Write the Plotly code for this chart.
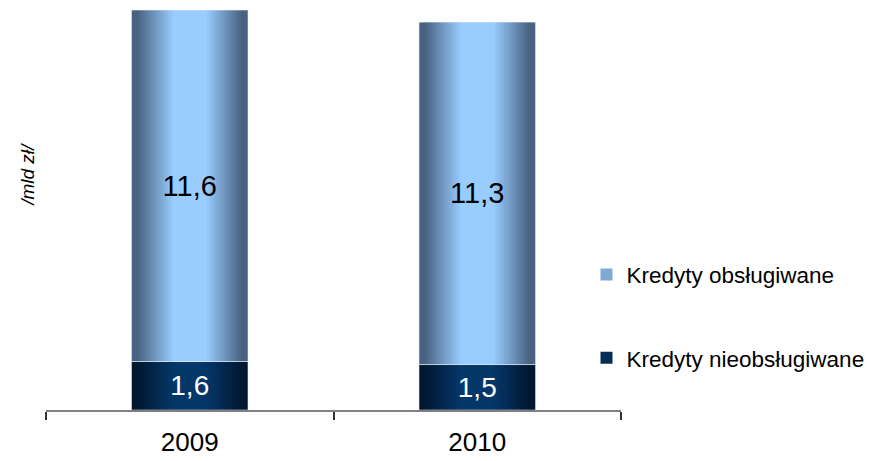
import plotly.graph_objects as go

categories = ["2009", "2010"]
nonperforming = [1.6, 1.5]      # Kredyty nieobsługiwane
performing = [11.6, 11.3]       # Kredyty obsługiwane
series_names = ["Kredyty obsługiwane", "Kredyty nieobsługiwane"]


def fmt(v):
    return f"{v:.1f}".replace(".", ",")


def mix(c1, c2, t):
    return "rgb({},{},{})".format(*[round(a + (b - a) * t) for a, b in zip(c1, c2)])


def shade(center, edge, d):
    t = min(max((d - 0.28) / 0.62, 0.0), 1.0)
    return mix(center, edge, t)


BAR_W = 0.405
N = 24
light_center, light_edge = (153, 204, 255), (72, 98, 128)
dark_center, dark_edge = (5, 55, 105), (1, 24, 50)

fig = go.Figure()
legend_k = N // 2

for (vals, bases, center, edge, name, lg) in [
    (nonperforming, [0, 0], dark_center, dark_edge, series_names[1], "legend2"),
    (performing, nonperforming, light_center, light_edge, series_names[0], "legend"),
]:
    for k in range(N):
        w = BAR_W * (1 - k / N)
        d = 1 - (k + 0.5) / N
        fig.add_trace(go.Bar(
            x=categories, y=vals, base=bases, width=w,
            marker=dict(color=shade(center, edge, d), line=dict(width=0)),
            name=name, showlegend=(k == legend_k), legend=lg,
            hoverinfo="skip",
        ))

# value labels
fig.add_trace(go.Bar(
    x=categories, y=nonperforming, base=[0, 0], width=BAR_W,
    marker=dict(color="rgba(0,0,0,0)"), showlegend=False,
    text=[fmt(v) for v in nonperforming], textposition="inside",
    insidetextanchor="middle", textangle=0,
    textfont=dict(color="white", size=28, family="Liberation Sans, Arial"),
    hoverinfo="skip",
))
fig.add_trace(go.Bar(
    x=categories, y=performing, base=nonperforming, width=BAR_W,
    marker=dict(color="rgba(0,0,0,0)"), showlegend=False,
    text=[fmt(v) for v in performing], textposition="inside",
    insidetextanchor="middle", textangle=0,
    textfont=dict(color="black", size=29, family="Liberation Sans, Arial"),
    hoverinfo="skip",
))

legend_common = dict(
    xanchor="left", yanchor="middle", bgcolor="rgba(0,0,0,0)",
    font=dict(size=22.5, color="black", family="Liberation Sans, Arial"),
    itemwidth=30, itemclick=False,
)

fig.update_layout(
    width=866, height=453,
    margin=dict(l=38, r=253, t=0, b=51),
    paper_bgcolor="white", plot_bgcolor="white",
    barmode="overlay",
    legend=dict(x=0.94, y=0.336, **legend_common),
    legend2=dict(x=0.94, y=0.129, **legend_common),
    xaxis=dict(
        type="category", showline=True, linecolor="#808080", linewidth=1.5,
        ticks="outside", tickson="boundaries", ticklen=8, tickcolor="#333333",
        tickwidth=1.5, showgrid=False, zeroline=False, ticklabelstandoff=8,
        tickfont=dict(size=26, color="black", family="Liberation Sans, Arial"),
    ),
    yaxis=dict(range=[0, 13.27], visible=False),
    annotations=[dict(
        text="<i>/mld zł/</i>", textangle=-90, xref="paper", yref="paper",
        x=-0.053, y=0.585, showarrow=False,
        font=dict(size=19, color="black", family="Liberation Sans, Arial"),
    )],
)

fig.write_html("out.html")
